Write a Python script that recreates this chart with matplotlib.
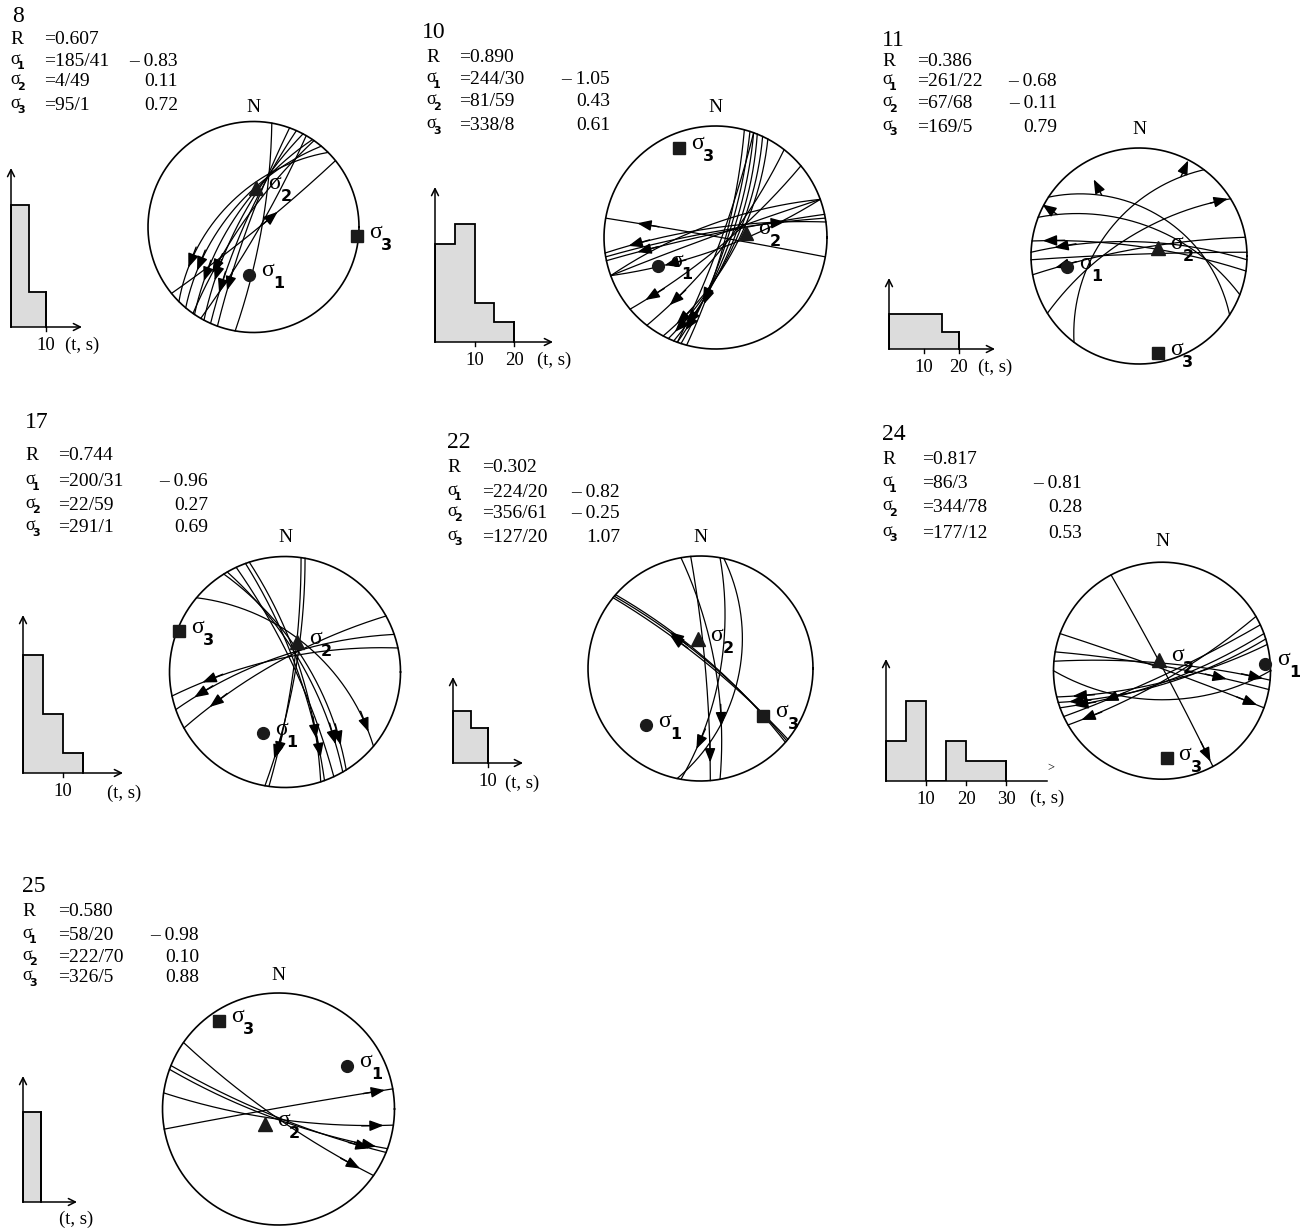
import numpy as np
import matplotlib
matplotlib.use('Agg')
import matplotlib.pyplot as plt

W, H = 1304, 1231
SERIF = 'Liberation Serif'
SANS = 'DejaVu Sans'

# ---------------- data ----------------
PANEL_IDS = ['8', '10', '11', '17', '22', '24', '25']
R_VALUES = ['0.607', '0.890', '0.386', '0.744', '0.302', '0.817', '0.580']
S1_AXES = ['185/41', '244/30', '261/22', '200/31', '224/20', '86/3', '58/20']
S2_AXES = ['4/49', '81/59', '67/68', '22/59', '356/61', '344/78', '222/70']
S3_AXES = ['95/1', '338/8', '169/5', '291/1', '127/20', '177/12', '326/5']
S1_VALUES = ['– 0.83', '– 1.05', '– 0.68', '– 0.96', '– 0.82', '– 0.81', '– 0.98']
S2_VALUES = ['0.11', '0.43', '– 0.11', '0.27', '– 0.25', '0.28', '0.10']
S3_VALUES = ['0.72', '0.61', '0.79', '0.69', '1.07', '0.53', '0.88']

# histogram counts per 5-s bin
H8 = [7, 2]
H10 = [5, 6, 2, 1]
H11 = [2, 2, 2, 1]
H17 = [6, 3, 1]
H22 = [3, 2]
H24 = [2, 4, 0, 2, 1, 1]
H25 = [5]
HISTS = [H8, H10, H11, H17, H22, H24, H25]
HIST_TICKS = [[10], [10, 20], [10, 20], [10], [10], [10, 20, 30], []]

# fault planes (strike RHR, dip) and slip arrows (plane index, rake, sense)
P8_PLANES = [(10, 81), (225, 55), (220, 62), (214, 68), (208, 74), (204, 80),
             (200, 84), (215, 78), (51, 86), (30, 84)]
P8_SLIPS = [(1, 22, -1), (2, 25, -1), (3, 22, -1), (4, 27, -1), (5, 20, -1),
            (6, 24, -1), (7, 30, -1), (8, 60, -1)]

P10_PLANES = [(280, 89), (250, 76), (250, 88), (70, 78), (260, 84), (20, 75),
              (22, 72), (18, 78), (25, 70), (15, 80), (28, 68), (20, 84),
              (50, 80), (38, 78), (262, 80), (258, 86)]
P10_SLIPS = [(0, 19, -1), (3, 144, 1), (4, 155, 1), (5, 172, 1), (6, 168, 1),
             (7, 150, 1), (8, 175, 1), (9, 152, 1), (10, 170, 1), (12, 170, 1),
             (13, 162, 1), (14, 14, -1), (15, 19, -1)]

P11_PLANES = [(217, 50), (238, 68), (303, 45), (291, 58), (260, 82), (278, 80),
              (272, 75), (268, 88)]
P11_SLIPS = [(4, 14, -1), (5, 6, -1), (6, 14, -1)]
# arrows leaving the plane: (plane, rake, sense, angle to plane trace)
P11_OFF = [(0, 166, 1, 45), (1, 168, 1, 0), (2, 34, -1, -55), (3, 11, -1, -40)]

P17_PLANES = [(8, 82), (10, 80), (342, 75), (340, 78), (330, 72), (328, 68),
              (335, 80), (310, 57), (241, 78), (251, 74), (258, 76)]
P17_SLIPS = [(0, 162, 1), (1, 164, 1), (2, 154, 1), (3, 167, 1), (4, 164, 1),
             (5, 166, 1), (7, 172, 1), (8, 19, -1), (9, 12, -1), (10, 19, -1)]

P22_PLANES = [(310, 80), (309, 82), (311, 79), (350, 75), (10, 70), (12, 52),
              (355, 85)]
P22_SLIPS = [(0, 45, -1), (1, 47, -1), (3, 146, 1), (4, 160, 1), (6, 170, 1)]

P24_PLANES = [(332, 88), (290, 88), (280, 85), (275, 82), (60, 80), (70, 78),
              (73, 76), (76, 78), (65, 85), (90, 60)]
P24_SLIPS = [(0, 177, 1), (1, 176, 1), (2, 152, 1), (3, 176, 1), (4, 172, 1),
             (5, 172, 1), (6, 174, 1), (7, 171, 1), (8, 152, 1)]

P25_PLANES = [(125, 82), (110, 80), (112, 82), (98, 80), (260, 89)]
P25_SLIPS = [(0, 8, -1), (1, 6, -1), (2, 9, -1), (3, 5, -1), (4, 176, 1)]

PLANES = [P8_PLANES, P10_PLANES, P11_PLANES, P17_PLANES, P22_PLANES, P24_PLANES, P25_PLANES]
SLIPS = [P8_SLIPS, P10_SLIPS, P11_SLIPS, P17_SLIPS, P22_SLIPS, P24_SLIPS, P25_SLIPS]
OFFS = [[], [], P11_OFF, [], [], [], []]

# ---------------- layout (pixels) ----------------
LAYOUT = [
    dict(num=(12, 16), lab_x=10, eq_x=44, val_r=178, rows=[40, 61, 82, 105],
         c=(253.5, 227), R=105.5, ny=107,
         hist=dict(x0=11, y0=327, xend=82, ytop=168, pxs=3.5, pyc=17.5, ts=(65, 345))),
    dict(num=(422, 32), lab_x=426, eq_x=459, val_r=610, rows=[57, 80, 102, 126],
         c=(715.5, 237.5), R=111.5, ny=108,
         hist=dict(x0=435, y0=342, xend=553, ytop=187, pxs=3.95, pyc=19.6, ts=(537, 360))),
    dict(num=(882, 40), lab_x=882, eq_x=917, val_r=1057, rows=[62, 82, 104, 127],
         c=(1139, 256), R=108, ny=129,
         hist=dict(x0=889, y0=349, xend=995, ytop=278, pxs=3.5, pyc=17.5, ts=(978, 367))),
    dict(num=(25, 423), lab_x=25, eq_x=58, val_r=208, rows=[455, 482, 505, 528],
         c=(285, 672), R=115.5, ny=537,
         hist=dict(x0=23, y0=773, xend=123, ytop=615, pxs=4, pyc=19.7, ts=(107, 793))),
    dict(num=(447, 442), lab_x=447, eq_x=482, val_r=620, rows=[468, 492, 513, 537],
         c=(700.5, 668.5), R=112.5, ny=537,
         hist=dict(x0=453, y0=763, xend=523, ytop=677, pxs=3.5, pyc=17.5, ts=(505, 783))),
    dict(num=(882, 434), lab_x=882, eq_x=922, val_r=1082, rows=[460, 484, 508, 533],
         c=(1162, 670.7), R=108.5, ny=542,
         hist=dict(x0=886, y0=781, xend=1047, ytop=659, pxs=4, pyc=20, ts=(1030, 798),
                   noarrow=True)),
    dict(num=(22, 887), lab_x=22, eq_x=58, val_r=199, rows=[912, 935, 957, 978],
         c=(278.5, 1109), R=116, ny=975,
         hist=dict(x0=23, y0=1202, xend=77, ytop=1076, pxs=3.6, pyc=18, ts=(59, 1219))),
]

fig = plt.figure(figsize=(W / 100, H / 100), dpi=100)
fig.patch.set_facecolor('white')


def fx(x):
    return x / W


def fy(y):
    return 1 - y / H


def sigma_text(x, y, k, size, subsize, dx, dy):
    fig.text(fx(x), fy(y), 'σ', fontsize=size, family=SERIF, ha='left', va='center')
    fig.text(fx(x + dx), fy(y + dy), str(k), fontsize=subsize, family=SANS,
             weight='bold', ha='left', va='center')


def plane_xy(strike, dip, rakes):
    s = np.radians(strike)
    d = np.radians(dip)
    r = np.radians(np.atleast_1d(rakes))
    S = np.array([np.sin(s), np.cos(s), 0.0])
    dd = s + np.pi / 2
    D = np.array([np.cos(d) * np.sin(dd), np.cos(d) * np.cos(dd), np.sin(d)])
    v = np.outer(np.cos(r), S) + np.outer(np.sin(r), D)
    return v[:, 0] / (1 + v[:, 2]), v[:, 1] / (1 + v[:, 2])


def axis_xy(txt):
    t, p = [float(a) for a in txt.split('/')]
    r = np.tan(np.radians(45 - p / 2))
    return r * np.sin(np.radians(t)), r * np.cos(np.radians(t))


def arrow(ax, strike, dip, rake, sense, L, offset=0.0, anchor='head'):
    x0, y0 = plane_xy(strike, dip, rake)
    x1, y1 = plane_xy(strike, dip, rake + sense * 0.5)
    u = np.array([x1[0] - x0[0], y1[0] - y0[0]])
    u /= np.hypot(*u)
    a = np.radians(offset)
    u = np.array([u[0] * np.cos(a) - u[1] * np.sin(a), u[0] * np.sin(a) + u[1] * np.cos(a)])
    p = np.array([x0[0], y0[0]])
    if anchor == 'head':
        head, tail = p, p - L * u
    else:
        tail, head = p, p + L * u
    ax.annotate('', xy=head, xytext=tail, annotation_clip=False,
                arrowprops=dict(arrowstyle='-|>,head_length=0.65,head_width=0.25',
                                color='black', lw=1.0, mutation_scale=13,
                                shrinkA=0, shrinkB=0))


for i, lay in enumerate(LAYOUT):
    # ---- header ----
    nx, nyy = lay['num']
    fig.text(fx(nx), fy(nyy), PANEL_IDS[i], fontsize=17, family=SERIF, ha='left', va='center')
    rows = lay['rows']
    fig.text(fx(lay['lab_x']), fy(rows[0]), 'R', fontsize=14, family=SERIF, ha='left', va='center')
    fig.text(fx(lay['eq_x']), fy(rows[0]), '=' + R_VALUES[i], fontsize=14, family=SERIF,
             ha='left', va='center')
    for k, (ax_txt, val) in enumerate(zip([S1_AXES[i], S2_AXES[i], S3_AXES[i]],
                                          [S1_VALUES[i], S2_VALUES[i], S3_VALUES[i]])):
        y = rows[k + 1]
        sigma_text(lay['lab_x'], y - 2, k + 1, 13, 8, 7, 7)
        fig.text(fx(lay['eq_x']), fy(y), '=' + ax_txt, fontsize=14, family=SERIF,
                 ha='left', va='center')
        fig.text(fx(lay['val_r']), fy(y), val, fontsize=14, family=SERIF,
                 ha='right', va='center')

    # ---- histogram ----
    h = lay['hist']
    wpx = h['xend'] - h['x0']
    hpx = h['y0'] - h['ytop']
    hax = fig.add_axes([fx(h['x0']), fy(h['y0']), wpx / W, hpx / H])
    xmax = wpx / h['pxs']
    ymax = hpx / h['pyc']
    hax.set_xlim(0, xmax)
    hax.set_ylim(0, ymax)
    hax.axis('off')
    counts = HISTS[i]
    edges = np.arange(len(counts) + 1) * 5.0
    hax.stairs(counts, edges, fill=True, facecolor='#dcdcdc', edgecolor='none')
    hax.stairs(counts, edges, baseline=0, color='black', lw=1.3)
    hax.plot([0, 0], [0, counts[0]], color='black', lw=1.3, clip_on=False)
    hax.plot([edges[-1], edges[-1]], [0, counts[-1]], color='black', lw=1.3, clip_on=False)
    ap = dict(arrowstyle='->,head_length=0.5,head_width=0.25', color='black', lw=1.1,
              shrinkA=0, shrinkB=0, mutation_scale=10)
    hax.annotate('', xy=(0, ymax), xytext=(0, 0), arrowprops=ap, annotation_clip=False)
    if h.get('noarrow'):
        hax.plot([0, xmax], [0, 0], color='black', lw=1.1, clip_on=False)
        fig.text(fx(1051), fy(768), '>', fontsize=9, family=SERIF, ha='center', va='center')
    else:
        hax.annotate('', xy=(xmax, 0), xytext=(0, 0), arrowprops=ap, annotation_clip=False)
    for t in HIST_TICKS[i]:
        hax.plot([t, t], [0, -4 / h['pyc']], color='black', lw=1.0, clip_on=False)
        hax.annotate(str(t), xy=(t, 0), xytext=(0, -18), textcoords='offset pixels',
                     ha='center', va='center', fontsize=13.5, family=SERIF,
                     annotation_clip=False)
    fig.text(fx(h['ts'][0]), fy(h['ts'][1]), '(t, s)', fontsize=13.5, family=SERIF,
             ha='left', va='center')

    # ---- stereonet ----
    cx, cy = lay['c']
    R = lay['R']
    pad = 30
    sax = fig.add_axes([fx(cx - R - pad), fy(cy + R + pad), 2 * (R + pad) / W, 2 * (R + pad) / H])
    lim = 1 + pad / R
    sax.set_xlim(-lim, lim)
    sax.set_ylim(-lim, lim)
    sax.axis('off')
    th = np.linspace(0, 2 * np.pi, 400)
    sax.plot(np.cos(th), np.sin(th), color='black', lw=1.2)
    rk = np.linspace(0, 180, 181)
    for (s, d) in PLANES[i]:
        x, y = plane_xy(s, d, rk)
        sax.plot(x, y, color='black', lw=0.9)
    L = 22 / R
    for (pi_, rake, sense) in SLIPS[i]:
        s, d = PLANES[i][pi_]
        arrow(sax, s, d, rake, sense, L)
    for (pi_, rake, sense, off) in OFFS[i]:
        s, d = PLANES[i][pi_]
        arrow(sax, s, d, rake, sense, 18 / R, offset=off, anchor='tail')
    sym = [('o', 8.5), ('^', 10), ('s', 8.5)]
    for k, ax_txt in enumerate([S1_AXES[i], S2_AXES[i], S3_AXES[i]]):
        x, y = axis_xy(ax_txt)
        m, ms = sym[k]
        sax.plot([x], [y], marker=m, ms=ms, color='#1a1a1a', zorder=5, clip_on=False)
        sax.annotate('σ', xy=(x, y), xytext=(12, 4), textcoords='offset pixels',
                     fontsize=17, family=SERIF, ha='left', va='center', annotation_clip=False)
        sax.annotate(str(k + 1), xy=(x, y), xytext=(24, -9), textcoords='offset pixels',
                     fontsize=11.5, family=SANS, weight='bold', ha='left', va='center',
                     annotation_clip=False)
    fig.text(fx(cx), fy(lay['ny']), 'N', fontsize=14, family=SERIF, ha='center', va='center')

fig.savefig('out.png', dpi=100)
